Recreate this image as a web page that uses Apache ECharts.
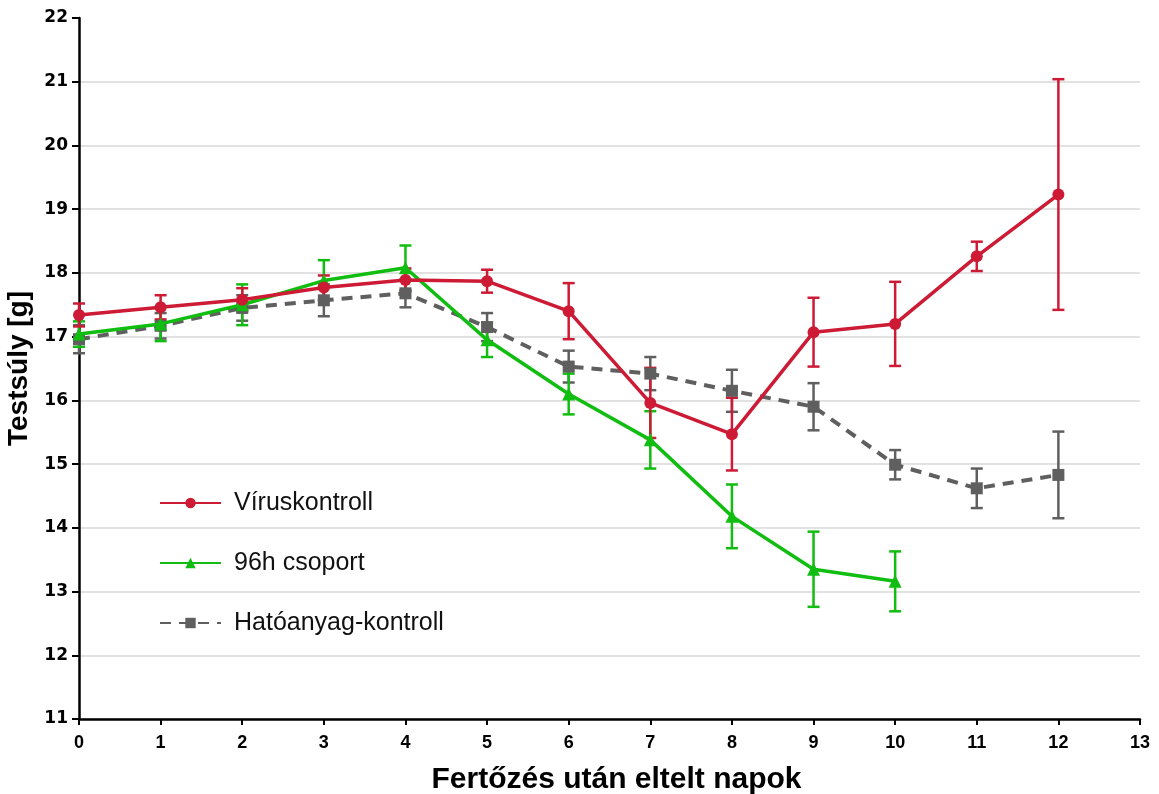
<!DOCTYPE html>
<html>
<head>
<meta charset="utf-8">
<script src="https://cdn.jsdelivr.net/npm/echarts@6/dist/echarts.min.js"></script>
<style>
  html, body { margin: 0; padding: 0; background: #ffffff; }
  #chart { width: 1159px; height: 794px; }
</style>
</head>
<body>
<div id="chart"></div>
<script>
// Napok a fertőzés után
const days = [0, 1, 2, 3, 4, 5, 6, 7, 8, 9, 10, 11, 12];
const xTicks = [0, 1, 2, 3, 4, 5, 6, 7, 8, 9, 10, 11, 12, 13];
const yTicks = [11, 12, 13, 14, 15, 16, 17, 18, 19, 20, 21, 22];

// Víruskontroll: átlag és szórás
const virusMean = [17.34, 17.46, 17.58, 17.77, 17.89, 17.87, 17.40, 15.96, 15.47, 17.07, 17.20, 18.26, 19.23];
const virusErr  = [0.18, 0.19, 0.18, 0.19, 0.18, 0.18, 0.44, 0.55, 0.57, 0.54, 0.66, 0.23, 1.81];

// 96h csoport (a 10. napig)
const group96Mean = [17.04, 17.20, 17.50, 17.88, 18.08, 16.95, 16.10, 15.38, 14.18, 13.35, 13.16];
const group96Err  = [0.20, 0.27, 0.32, 0.32, 0.35, 0.27, 0.32, 0.45, 0.50, 0.59, 0.47];

// Hatóanyag-kontroll
const drugMean = [16.96, 17.17, 17.45, 17.57, 17.68, 17.15, 16.53, 16.42, 16.15, 15.90, 14.99, 14.62, 14.83];
const drugErr  = [0.22, 0.20, 0.20, 0.25, 0.22, 0.22, 0.25, 0.26, 0.33, 0.37, 0.23, 0.31, 0.68];

const RED = '#cd1a35';
const GREEN = '#10bd10';
const GRAY = '#5f5f5f';
const FONT = '"Liberation Sans", Arial, Helvetica, sans-serif';
const NARROW = '"Liberation Sans Narrow", "Arial Narrow", "Liberation Sans", sans-serif';
const WIDE = '"DejaVu Sans", "Liberation Sans", sans-serif';

function pairs(mean) {
  return mean.map((v, i) => [days[i], v]);
}
function ranges(mean, err) {
  return mean.map((v, i) => [days[i], v - err[i], v + err[i]]);
}

// Hibasáv: függőleges vonal két vízszintes véggel
function errorBar(color) {
  return function (params, api) {
    const x = api.value(0);
    const top = api.coord([x, api.value(2)]);
    const bot = api.coord([x, api.value(1)]);
    const half = 6;
    const style = { stroke: color, lineWidth: 2.5, fill: null };
    return {
      type: 'group',
      children: [
        { type: 'line', shape: { x1: top[0], y1: top[1], x2: bot[0], y2: bot[1] }, style: style },
        { type: 'line', shape: { x1: top[0] - half, y1: top[1], x2: top[0] + half, y2: top[1] }, style: style },
        { type: 'line', shape: { x1: bot[0] - half, y1: bot[1], x2: bot[0] + half, y2: bot[1] }, style: style }
      ]
    };
  };
}

const gridColors = yTicks.map((t, i) => (i === yTicks.length - 1 ? 'rgba(0,0,0,0)' : '#d9d9d9'));

const chart = echarts.init(document.getElementById('chart'), null, { renderer: 'canvas' });
chart.setOption({
  animation: false,
  backgroundColor: '#ffffff',
  grid: { left: 79, right: 19, top: 18, bottom: 75, containLabel: false, outerBoundsMode: 'none' },
  legend: {
    data: ['Víruskontroll', '96h csoport', 'Hatóanyag-kontroll'],
    orient: 'vertical',
    left: 154,
    top: 484,
    itemWidth: 61,
    itemHeight: 13,
    itemGap: 32,
    textStyle: { fontFamily: FONT, fontSize: 25, color: '#111', padding: [0, 0, 0, 8], lineHeight: 28 }
  },
  xAxis: {
    type: 'value',
    min: xTicks[0],
    max: xTicks[xTicks.length - 1],
    interval: 1,
    name: 'Fertőzés után eltelt napok',
    nameLocation: 'middle',
    nameGap: 46,
    nameTextStyle: { fontFamily: FONT, fontSize: 30, fontWeight: 'bold', color: '#000', padding: [0, 0, 0, 14] },
    axisLine: { show: true, onZero: false, lineStyle: { color: '#000', width: 2.5 } },
    axisTick: { show: true, length: 6, lineStyle: { color: '#000', width: 2 } },
    axisLabel: { fontFamily: NARROW, fontSize: 18, fontWeight: 'bold', color: '#000', margin: 15 },
    splitLine: { show: false }
  },
  yAxis: {
    type: 'value',
    min: yTicks[0],
    max: yTicks[yTicks.length - 1],
    interval: 1,
    name: 'Testsúly [g]',
    nameLocation: 'middle',
    nameRotate: 90,
    nameGap: 40,
    nameTextStyle: { fontFamily: FONT, fontSize: 28, fontWeight: 'bold', color: '#000' },
    axisLine: { show: true, onZero: false, lineStyle: { color: '#000', width: 2.5 } },
    axisTick: { show: true, length: 7, lineStyle: { color: '#000', width: 2 } },
    axisLabel: { fontFamily: WIDE, fontSize: 17, fontWeight: 'bold', color: '#000', margin: 11 },
    splitLine: { show: true, lineStyle: { color: gridColors, width: 1.5 } }
  },
  series: [
    {
      type: 'custom', name: 'drugErr', renderItem: errorBar(GRAY),
      data: ranges(drugMean, drugErr), encode: { x: 0, y: [1, 2] }, z: 2, silent: true
    },
    {
      type: 'custom', name: 'group96Err', renderItem: errorBar(GREEN),
      data: ranges(group96Mean, group96Err), encode: { x: 0, y: [1, 2] }, z: 2, silent: true
    },
    {
      type: 'custom', name: 'virusErr', renderItem: errorBar(RED),
      data: ranges(virusMean, virusErr), encode: { x: 0, y: [1, 2] }, z: 2, silent: true
    },
    {
      type: 'line', name: 'Hatóanyag-kontroll', data: pairs(drugMean),
      symbol: 'rect', symbolSize: 12, showAllSymbol: true,
      lineStyle: { color: GRAY, width: 4, type: [11, 8] },
      itemStyle: { color: GRAY }, z: 3
    },
    {
      type: 'line', name: '96h csoport', data: pairs(group96Mean),
      symbol: 'triangle', symbolSize: 13, showAllSymbol: true,
      lineStyle: { color: GREEN, width: 3.5 },
      itemStyle: { color: GREEN }, z: 4
    },
    {
      type: 'line', name: 'Víruskontroll', data: pairs(virusMean),
      symbol: 'circle', symbolSize: 12, showAllSymbol: true,
      lineStyle: { color: RED, width: 3.5 },
      itemStyle: { color: RED }, z: 5
    }
  ]
});
</script>
</body>
</html>
